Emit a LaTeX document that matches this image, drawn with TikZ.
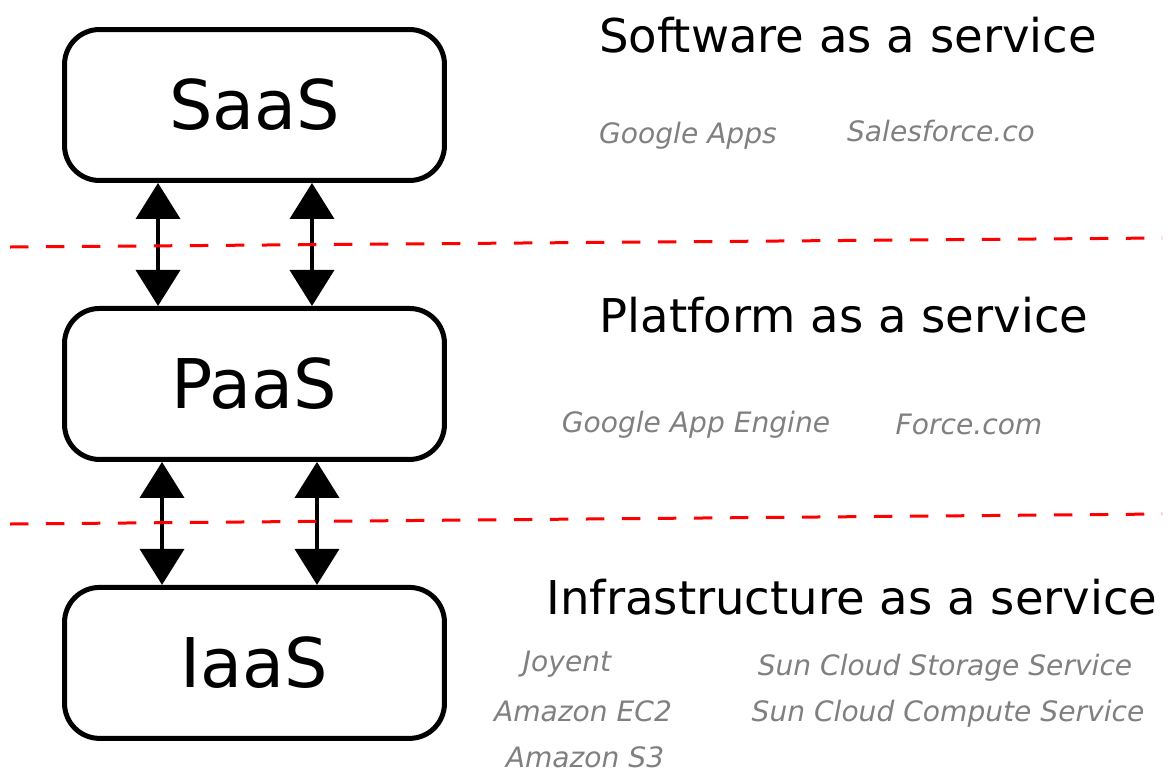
\documentclass[tikz,border=0pt]{standalone}
\usepackage{fontspec}
\setmainfont{DejaVu Sans}
\usetikzlibrary{arrows.meta,positioning}
\definecolor{cutred}{HTML}{FF0000}
\definecolor{exgray}{HTML}{808080}
\tikzset{
  layer/.style={
    rectangle, rounded corners=0.7cm, draw=black, line width=0.1cm,
    minimum width=7.6cm, minimum height=3.02cm, inner sep=0pt,
    font=\fontsize{39}{47}\selectfont
  },
  title/.style={anchor=base, inner sep=0pt, font=\fontsize{26.5}{32}\selectfont},
  example/.style={anchor=base, inner sep=0pt, text=exgray,
    font=\itshape\fontsize{16}{19}\selectfont},
  dbl/.style={{Triangle[width=0.88cm,length=0.72cm]}-{Triangle[width=0.88cm,length=0.72cm]},
    line width=0.08cm, black},
  cut/.style={cutred, line width=0.06cm, dash pattern=on 0.37cm off 0.35cm}
}
\begin{document}
\begin{tikzpicture}[x=0.02cm, y=-0.02cm, node distance=2.46cm]
\useasboundingbox (0,0) rectangle (1175,771);

\node[layer] (saas) at (254.5,105) {SaaS};
\node[layer, below=of saas] (paas) {PaaS};
\node[layer, below=of paas] (iaas) {IaaS};

\draw[dbl] ([xshift=-1.93cm]saas.south) -- ([xshift=-1.93cm]paas.north);
\draw[dbl] ([xshift=1.15cm]saas.south) -- ([xshift=1.15cm]paas.north);
\draw[dbl] ([xshift=-1.85cm]paas.south) -- ([xshift=-1.85cm]iaas.north);
\draw[dbl] ([xshift=1.25cm]paas.south) -- ([xshift=1.25cm]iaas.north);

% layer borders
\coordinate (cut1w) at (10,247);
\coordinate (cut1e) at (1162,238);
\coordinate (cut2w) at (10,524);
\coordinate (cut2e) at (1162,514);
\draw[cut] (cut1w) -- (cut1e);
\draw[cut] (cut2w) -- (cut2e);

\node[title] (saastitle) at (848,52) {Software as a service};
\node[example] (gapps) at (688,143) {Google Apps};
\node[example] (sforce) at (941,141) {Salesforce.co};

\node[title] (paastitle) at (844,332) {Platform as a service};
\node[example] (gae) at (696,432) {Google App Engine};
\node[example] (forcecom) at (969,434) {Force.com};

\node[title] (iaastitle) at (852,614) {Infrastructure as a service};
\node[example] (joyent) at (567,671) {Joyent};
\node[example] (sunstore) at (945,675) {Sun Cloud Storage Service};
\node[example] (ec2) at (583,721) {Amazon EC2};
\node[example] (suncomp) at (948,721) {Sun Cloud Compute Service};
\node[example] (s3) at (585,767) {Amazon S3};

\end{tikzpicture}
\end{document}
